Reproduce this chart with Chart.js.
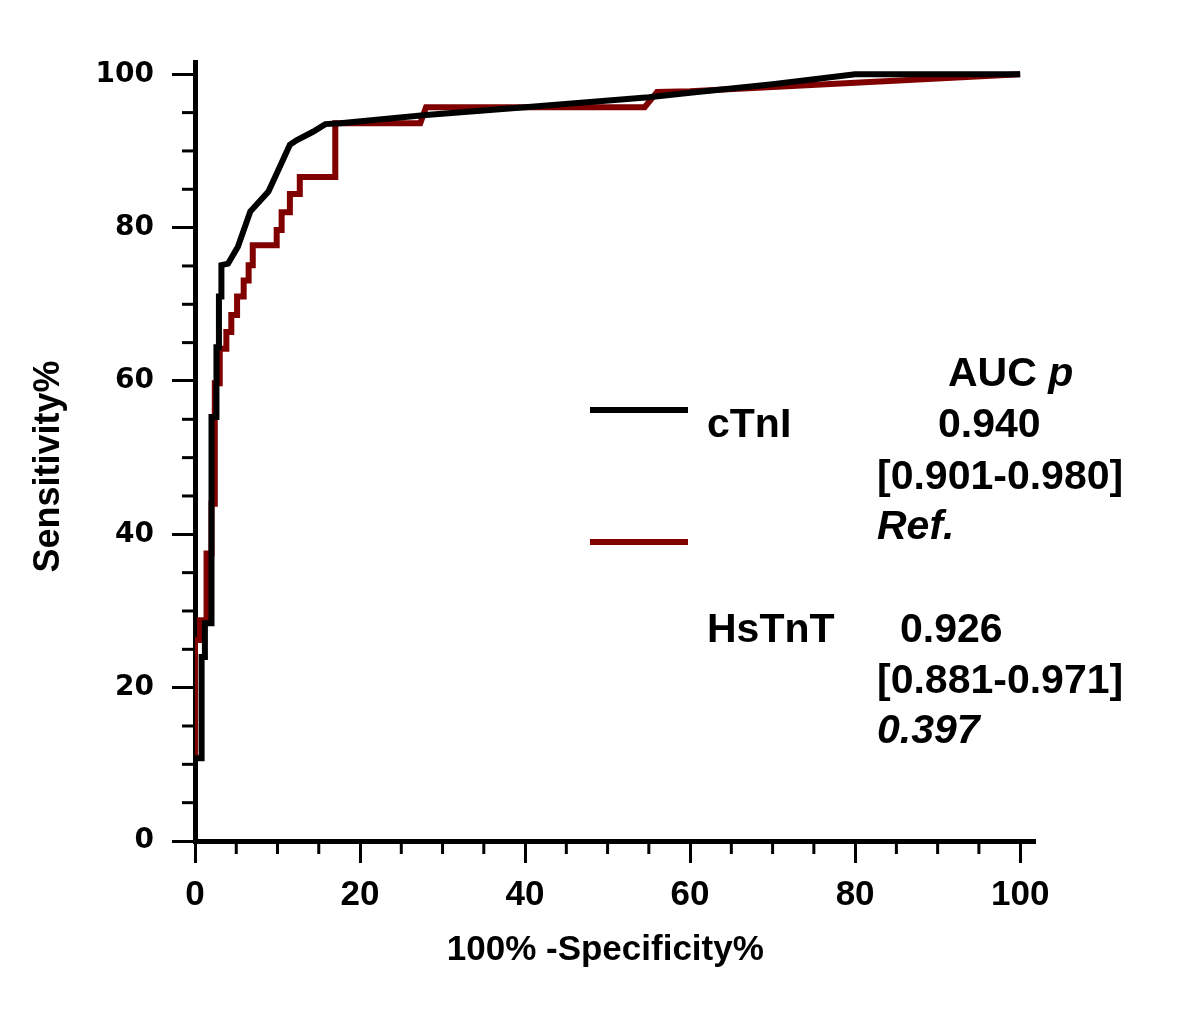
<!DOCTYPE html>
<html>
<head>
<meta charset="utf-8">
<script src="https://cdn.jsdelivr.net/npm/chart.js@4.4.0/dist/chart.umd.min.js"></script>
<style>
  html, body { margin: 0; padding: 0; background: #fff; }
  #wrap { width: 1200px; height: 1035px; }
</style>
</head>
<body>
<div id="wrap"><canvas id="roc-chart" width="1200" height="1035"></canvas></div>
<script>
// ROC curves: x = 100% - specificity, y = sensitivity
const ctniFpr  = [0, 0, 0.8, 0.8, 1.2, 1.2, 2.0, 2.0, 2.6, 2.6, 2.9, 2.9, 3.2, 3.2, 4.0, 5.2, 6.7, 8.9, 10.1, 11.5, 12.3, 14.3, 15.8, 17.6, 28, 40, 55, 60, 70, 80, 100];
const ctniSens = [0, 10.8, 10.8, 24, 24, 28.4, 28.4, 55.3, 55.3, 64.4, 64.4, 71, 71, 75.1, 75.3, 77.5, 82.1, 84.7, 87.5, 90.8, 91.4, 92.5, 93.5, 93.6, 94.7, 95.7, 97.0, 97.6, 98.7, 100, 100];

const hstntFpr  = [0, 0, 0.6, 0.6, 1.4, 1.4, 2.0, 2.0, 2.4, 2.4, 3.0, 3.0, 3.8, 3.8, 4.4, 4.4, 5.1, 5.1, 5.9, 5.9, 6.5, 6.5, 7.0, 7.0, 9.9, 9.9, 10.5, 10.5, 11.5, 11.5, 12.7, 12.7, 17.0, 17.0, 27.3, 28.0, 54.5, 56.0, 60, 80, 100];
const hstntSens = [0, 26.2, 26.2, 28.8, 28.8, 37.5, 37.5, 44, 44, 59.7, 59.7, 64.2, 64.2, 66.4, 66.4, 68.6, 68.6, 71, 71, 73.1, 73.1, 75.1, 75.1, 77.7, 77.7, 79.7, 79.7, 82, 82, 84.4, 84.4, 86.6, 86.6, 93.6, 93.6, 95.7, 95.7, 97.7, 97.8, 98.9, 100];

const tickValues = [0, 5, 10, 15, 20, 25, 30, 35, 40, 45, 50, 55, 60, 65, 70, 75, 80, 85, 90, 95, 100];
const seriesNames = ['cTnI', 'HsTnT'];
const aucHeader = 'AUC ';
const aucValues = ['0.940', '0.926'];
const aucCI = ['[0.901-0.980]', '[0.881-0.971]'];
const pValues = ['Ref.', '0.397'];

const RED = '#800000';

function toPoints(xs, ys) {
  return xs.map((x, i) => ({ x, y: ys[i] }));
}

// short minor ticks (Chart.js only has one tick length per axis)
const minorTicks = {
  id: 'minorTicks',
  afterDraw(chart) {
    const ctx = chart.ctx;
    const xs = chart.scales.x, ys = chart.scales.y;
    const area = chart.chartArea;
    ctx.save();
    ctx.strokeStyle = '#000';
    ctx.lineWidth = 3;
    tickValues.forEach(v => {
      if (v % 20 === 0) return;
      const px = xs.getPixelForValue(v);
      ctx.beginPath();
      ctx.moveTo(px, area.bottom);
      ctx.lineTo(px, area.bottom + 13);
      ctx.stroke();
      const py = ys.getPixelForValue(v);
      ctx.beginPath();
      ctx.moveTo(area.left, py);
      ctx.lineTo(area.left - 13, py);
      ctx.stroke();
    });
    ctx.restore();
  }
};

const legendBox = {
  id: 'legendBox',
  afterDraw(chart) {
    const ctx = chart.ctx;
    ctx.save();
    ctx.lineWidth = 6;
    ctx.strokeStyle = '#000';
    ctx.beginPath(); ctx.moveTo(590, 410); ctx.lineTo(688, 410); ctx.stroke();
    ctx.strokeStyle = RED;
    ctx.beginPath(); ctx.moveTo(590, 542); ctx.lineTo(688, 542); ctx.stroke();

    ctx.fillStyle = '#000';
    ctx.textBaseline = 'alphabetic';
    ctx.textAlign = 'left';
    const reg = 'bold 41px "Liberation Sans", Arial, sans-serif';
    const ital = 'italic bold 41px "Liberation Sans", Arial, sans-serif';
    ctx.font = reg;
    ctx.fillText(aucHeader, 948, 386);
    const w = ctx.measureText(aucHeader).width;
    ctx.font = ital;
    ctx.fillText('p', 948 + w, 386);

    ctx.font = reg;
    ctx.fillText(seriesNames[0], 707, 437);
    ctx.fillText(aucValues[0], 938, 437);
    ctx.fillText(aucCI[0], 877, 489);
    ctx.font = ital;
    ctx.fillText(pValues[0], 877, 539);

    ctx.font = reg;
    ctx.fillText(seriesNames[1], 707, 642);
    ctx.fillText(aucValues[1], 900, 642);
    ctx.fillText(aucCI[1], 877, 693);
    ctx.font = ital;
    ctx.fillText(pValues[1], 877, 743);
    ctx.restore();
  }
};

const majorOnly = c => (c.tick && c.tick.value % 20 === 0) ? '#000' : 'rgba(0,0,0,0)';

new Chart(document.getElementById('roc-chart').getContext('2d'), {
  type: 'line',
  data: {
    datasets: [
      {
        label: seriesNames[0],
        data: toPoints(ctniFpr, ctniSens),
        borderColor: '#000',
        borderWidth: 6,
        pointRadius: 0,
        tension: 0,
        fill: false
      },
      {
        label: seriesNames[1],
        data: toPoints(hstntFpr, hstntSens),
        borderColor: RED,
        borderWidth: 6,
        pointRadius: 0,
        tension: 0,
        fill: false
      }
    ]
  },
  options: {
    responsive: false,
    animation: false,
    devicePixelRatio: 1,
    layout: { padding: { left: 0, top: 62, right: 165, bottom: 0 } },
    plugins: { legend: { display: false }, tooltip: { enabled: false } },
    scales: {
      x: {
        type: 'linear',
        min: 0,
        max: 101.8,
        afterBuildTicks: s => { s.ticks = tickValues.map(v => ({ value: v })); },
        afterFit: s => { s.height = 194; },
        grid: { drawOnChartArea: false, tickLength: 22, tickWidth: 3, tickColor: majorOnly },
        border: { color: '#000', width: 5 },
        ticks: {
          autoSkip: false,
          maxRotation: 0,
          padding: 11,
          color: '#000',
          font: { family: '"Liberation Sans", Arial, sans-serif', size: 35, weight: 'bold' },
          callback: v => v % 20 === 0 ? v : ''
        },
        title: {
          display: true,
          text: '100% -Specificity%  ',
          color: '#000',
          font: { family: '"Liberation Sans", Arial, sans-serif', size: 35, weight: 'bold' },
          padding: { top: 0, bottom: 64 }
        }
      },
      y: {
        type: 'linear',
        min: 0,
        max: 101.6,
        afterBuildTicks: s => { s.ticks = tickValues.map(v => ({ value: v })); },
        afterFit: s => { s.width = 195; },
        grid: { drawOnChartArea: false, tickLength: 23, tickWidth: 3, tickColor: majorOnly },
        border: { color: '#000', width: 5 },
        ticks: {
          autoSkip: false,
          padding: 18,
          color: '#000',
          font: { family: '"DejaVu Sans", sans-serif', size: 28, weight: 'bold' },
          callback: v => v % 20 === 0 ? v : ''
        },
        title: {
          display: true,
          text: 'Sensitivity%   ',
          color: '#000',
          font: { family: '"Liberation Sans", Arial, sans-serif', size: 36, weight: 'bold' },
          padding: { top: 27, bottom: 0 }
        }
      }
    }
  },
  plugins: [minorTicks, legendBox]
});
</script>
</body>
</html>
